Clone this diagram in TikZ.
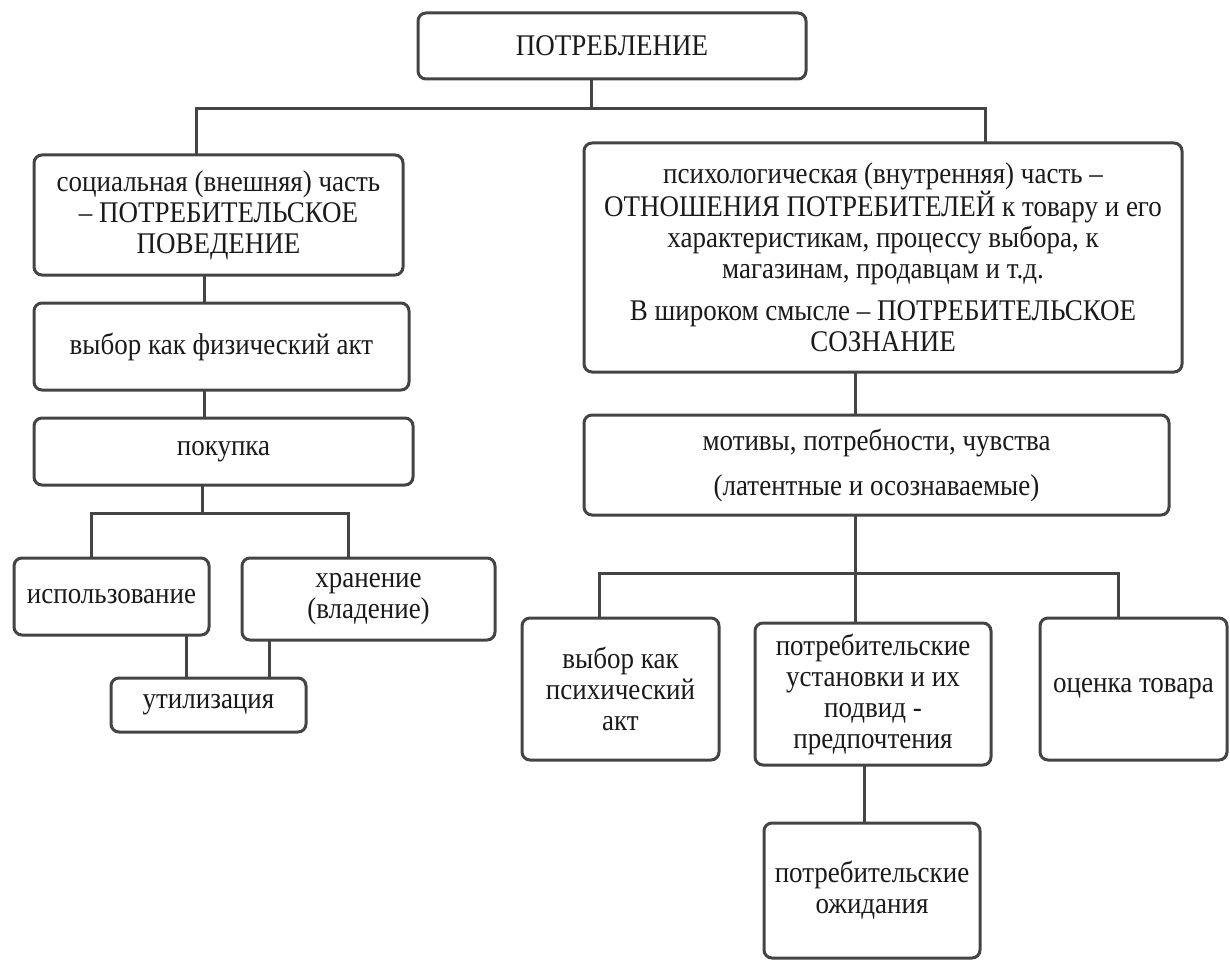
\documentclass[tikz,border=0pt]{standalone}
\usepackage{fontspec}
\setmainfont[FakeStretch=0.9]{Liberation Serif}
\definecolor{ln}{HTML}{444444}
\definecolor{tx}{HTML}{1A1A1A}
\begin{document}
\begin{tikzpicture}[x=1pt,y=-1pt,
  box/.style={draw=ln, line width=3pt, rounded corners=8pt, fill=white, text=tx,
    anchor=north west, inner sep=0pt, outer sep=0pt, align=center,
    font=\fontsize{30}{31}\selectfont},
  conn/.style={draw=ln, line width=3pt}]
\fill[white] (0,0) rectangle (1230,960);
\useasboundingbox (0,0) rectangle (1230,960);
% boxes
\node[box, minimum width=388pt, minimum height=66pt] (top) at (418,13) {ПОТРЕБЛЕНИЕ};
\node[box, minimum width=369pt, minimum height=120pt] (L1) at (34,155)
  {социальная (внешняя) часть\\– ПОТРЕБИТЕЛЬСКОЕ\\ПОВЕДЕНИЕ};
\node[box, minimum width=375pt, minimum height=87pt] (L2) at (34,303) {выбор как физический акт};
\node[box, minimum width=379pt, minimum height=67pt] (L3) at (34,418) {покупка};
\node[box, minimum width=195pt, minimum height=77pt] (L4) at (14,558) {использование};
\node[box, minimum width=253pt, minimum height=82pt] (L5) at (242,558) {хранение\\(владение)};
\node[box, minimum width=195pt, minimum height=54pt] (L6) at (111,678) {утилизация};
\node[box, minimum width=598pt, minimum height=229pt] (R1) at (584,143)
  {психологическая (внутренняя) часть –\\ОТНОШЕНИЯ ПОТРЕБИТЕЛЕЙ к товару и его\\характеристикам, процессу выбора, к\\магазинам, продавцам и т.д.\\[11pt]В широком смысле – ПОТРЕБИТЕЛЬСКОЕ\\СОЗНАНИЕ};
\node[box, minimum width=585pt, minimum height=100pt] (R2) at (584,415)
  {мотивы, потребности, чувства\\[14pt](латентные и осознаваемые)};
\node[box, minimum width=197pt, minimum height=142pt] (R3) at (522,618) {выбор как\\психический\\акт};
\node[box, minimum width=236pt, minimum height=142pt] (R4) at (755,623)
  {потребительские\\установки и их\\подвид -\\предпочтения};
\node[box, minimum width=187pt, minimum height=142pt] (R5) at (1040,618) {оценка товара};
\node[box, minimum width=216pt, minimum height=135pt] (R6) at (764,823) {потребительские\\ожидания};
% junction coordinates
\coordinate (j0) at (591,109);
\coordinate (a1) at (196,109);
\coordinate (a2) at (985,109);
\coordinate (c1) at (204,0);
\coordinate (j1) at (202,513);
\coordinate (b1) at (91,513);
\coordinate (b2) at (348,513);
\coordinate (u1) at (186,0);
\coordinate (u2) at (269,0);
\coordinate (c2) at (855,0);
\coordinate (j2) at (855,573);
\coordinate (d1) at (599,573);
\coordinate (d3) at (1118,573);
\coordinate (c3) at (864,0);
% connectors
\draw[conn] (top.south -| j0) -- (j0);
\draw[conn] (a1 |- L1.north) -- (a1) -- (a2) -- (a2 |- R1.north);
\draw[conn] (c1 |- L1.south) -- (c1 |- L2.north);
\draw[conn] (c1 |- L2.south) -- (c1 |- L3.north);
\draw[conn] (L3.south -| j1) -- (j1);
\draw[conn] (b1 |- L4.north) -- (b1) -- (b2) -- (b2 |- L5.north);
\draw[conn] (u1 |- L4.south) -- (u1 |- L6.north);
\draw[conn] (u2 |- L5.south) -- (u2 |- L6.north);
\draw[conn] (c2 |- R1.south) -- (c2 |- R2.north);
\draw[conn] (R2.south -| j2) -- (j2);
\draw[conn] (d1 |- R3.north) -- (d1) -- (d3) -- (d3 |- R5.north);
\draw[conn] (j2) -- (j2 |- R4.north);
\draw[conn] (c3 |- R4.south) -- (c3 |- R6.north);
\end{tikzpicture}
\end{document}
